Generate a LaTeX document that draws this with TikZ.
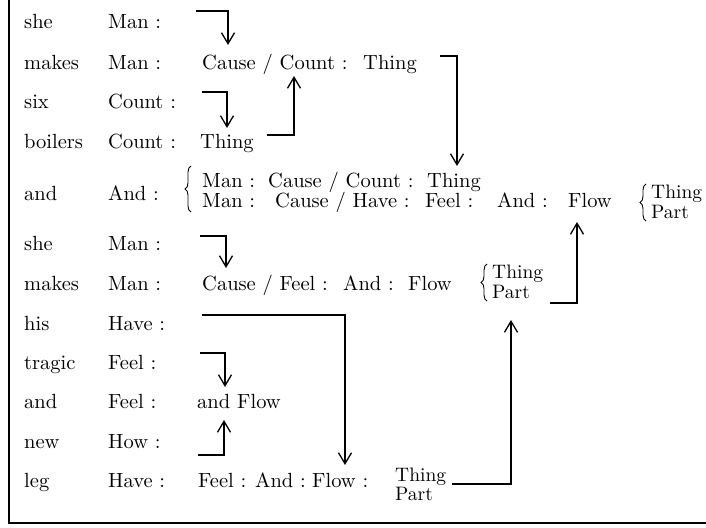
\documentclass[tikz,border=0pt]{standalone}
\usetikzlibrary{arrows.meta,decorations.pathreplacing}
\font\mainrm="[lmroman10-regular]:+tlig;" at 20.5pt
\font\sidrm="[lmroman10-regular]:+tlig;" at 19.5pt
\begin{document}
\begin{tikzpicture}[x=1pt,y=-1pt,
  font=\mainrm,
  txt/.style={anchor=base west, inner sep=0pt},
  small/.style={txt, font=\sidrm},
  conn/.style={line width=1.6pt},
  arr/.style={conn, -{Straight Barb[length=11pt,width=13pt,line width=1.3pt]}},
  brc/.style={decorate, decoration={brace, amplitude=6pt}, line width=0.9pt},
  frame/.style={line width=2pt}]
\useasboundingbox (0,0) rectangle (706,527);
% frame (left and bottom edges)
\draw[frame] (9,0) -- (9,523) -- (706,523);

% column 1: words
\node[txt] (w1)  at (24,29)  {she};
\node[txt] (w2)  at (24,69)  {makes};
\node[txt] (w3)  at (24,108) {six};
\node[txt] (w4)  at (24,148) {boilers};
\node[txt] (w5)  at (24,200) {and};
\node[txt] (w6)  at (24,250) {she};
\node[txt] (w7)  at (24,290) {makes};
\node[txt] (w8)  at (24,330) {his};
\node[txt] (w9)  at (24,369) {tragic};
\node[txt] (w10) at (24,408) {and};
\node[txt] (w11) at (24,448) {new};
\node[txt] (w12) at (24,487) {leg};

% column 2: categories
\node[txt] (c1)  at (108,29)  {Man :};
\node[txt] (c2)  at (108,69)  {Man :};
\node[txt] (c3)  at (108,108) {Count :};
\node[txt] (c4)  at (108,148) {Count :};
\node[txt] (c5)  at (108,200) {And :};
\node[txt] (c6)  at (108,250) {Man :};
\node[txt] (c7)  at (108,290) {Man :};
\node[txt] (c8)  at (108,330) {Have :};
\node[txt] (c9)  at (108,369) {Feel :};
\node[txt] (c10) at (108,408) {Feel :};
\node[txt] (c11) at (108,448) {How :};
\node[txt] (c12) at (108,487) {Have :};

% row 2
\node[txt] (r2a) at (202,69) {Cause / Count :};
\node[txt] (r2b) at (363,69) {Thing};
% row 4
\node[txt] (r4a) at (200,148) {Thing};
% row 5 (braced)
\draw[brc] (191,212) -- (191,166);
\node[txt] (r5a) at (202,187) {Man :};
\node[txt] (r5b) at (268,187) {Cause / Count :};
\node[txt] (r5c) at (427,187) {Thing};
\node[txt] (r5d) at (202,207) {Man :};
\node[txt] (r5e) at (275,207) {Cause / Have :};
\node[txt] (r5f) at (425,207) {Feel :};
\node[txt] (r5g) at (497,207) {And :};
\node[txt] (r5h) at (568,207) {Flow};
\draw[brc] (646,221) -- (646,184);
\node[small] (r5i) at (651,198) {Thing};
\node[small] (r5j) at (651,218) {Part};
% row 7
\node[txt] (r7a) at (202,290) {Cause / Feel :};
\node[txt] (r7b) at (343,290) {And :};
\node[txt] (r7c) at (408,290) {Flow};
\draw[brc] (487,301) -- (487,264);
\node[small] (r7d) at (492,278) {Thing};
\node[small] (r7e) at (492,298) {Part};
% row 10
\node[txt] (r10a) at (197,408) {and};
\node[txt] (r10b) at (237,408) {Flow};
% row 12
\node[txt] (r12a) at (198,487) {Feel :};
\node[txt] (r12b) at (255,487) {And :};
\node[txt] (r12c) at (312,487) {Flow :};
\node[small] (r12d) at (395,481) {Thing};
\node[small] (r12e) at (395,500) {Part};

% connector end points
\coordinate (a1s) at (196,11);  \coordinate (a1e) at (228,45);
\coordinate (a2s) at (202,92);  \coordinate (a2e) at (227,128);
\coordinate (a3s) at (267,135); \coordinate (a3e) at (294,76);
\coordinate (a4s) at (440,56);  \coordinate (a4e) at (457,166);
\coordinate (a5s) at (200,236); \coordinate (a5e) at (226,268);
\coordinate (a6s) at (550,303); \coordinate (a6e) at (577,222);
\coordinate (a7s) at (202,315); \coordinate (a7e) at (345,465);
\coordinate (a8s) at (452,484); \coordinate (a8e) at (511,320);
\coordinate (a9s) at (200,353); \coordinate (a9e) at (225,387);
\coordinate (a10s) at (198,455); \coordinate (a10e) at (224,420);

\draw[arr] (a1s) -| (a1e);
\draw[arr] (a2s) -| (a2e);
\draw[arr] (a3s) -| (a3e);
\draw[arr] (a4s) -| (a4e);
\draw[arr] (a5s) -| (a5e);
\draw[arr] (a6s) -| (a6e);
\draw[arr] (a7s) -| (a7e);
\draw[arr] (a8s) -| (a8e);
\draw[arr] (a9s) -| (a9e);
\draw[arr] (a10s) -| (a10e);
\end{tikzpicture}
\end{document}
